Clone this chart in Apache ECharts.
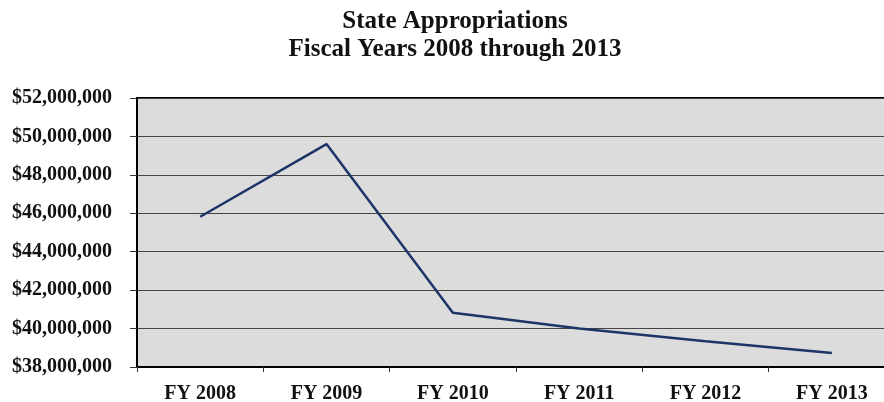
<!DOCTYPE html>
<html>
<head>
<meta charset="utf-8">
<script src="https://cdn.jsdelivr.net/npm/echarts@6/dist/echarts.min.js"></script>
<style>
  html, body { margin: 0; padding: 0; background: #fff; }
  #chart { width: 884px; height: 402px; }
</style>
</head>
<body>
<div id="chart"></div>
<script>
// Data
const years = ['FY 2008', 'FY 2009', 'FY 2010', 'FY 2011', 'FY 2012', 'FY 2013'];
const appropriations = [45820000, 49600000, 40820000, 40000000, 39340000, 38730000];
const titleLines = ['State Appropriations', 'Fiscal Years 2008 through 2013'];

const FONT = '"Liberation Serif", "Times New Roman", serif';

const chart = echarts.init(document.getElementById('chart'));

// format like $52,000,000
const money = v => '$' + v.toLocaleString('en-US');

chart.setOption({
    animation: false,
    graphic: titleLines.map((t, i) => ({
        type: 'text',
        x: 455,
        y: 22 + i * 28,
        style: {
            text: t,
            fontFamily: FONT,
            fontWeight: 'bold',
            fontSize: 25,
            fill: '#111',
            align: 'center',
            verticalAlign: 'middle'
        }
    })),
    grid: {
        left: 137,
        top: 98,
        right: -11,
        bottom: 35,
        outerBoundsMode: 'none',
        containLabel: false,
        show: true,
        backgroundColor: '#dcdcdc',
        borderColor: '#000',
        borderWidth: 2
    },
    xAxis: {
        type: 'category',
        data: years,
        boundaryGap: true,
        axisLine: { lineStyle: { color: '#000', width: 2 } },
        axisTick: { show: true, length: 5, lineStyle: { color: '#333' } },
        axisLabel: {
            margin: 17,
            fontFamily: FONT,
            fontWeight: 'bold',
            fontSize: 20,
            color: '#111'
        }
    },
    yAxis: {
        type: 'value',
        min: 38000000,
        max: 52000000,
        interval: 2000000,
        axisLine: { show: true, lineStyle: { color: '#000', width: 2 } },
        axisTick: { show: true, length: 7, lineStyle: { color: '#333' } },
        splitLine: { lineStyle: { color: '#444', width: 1 } },
        axisLabel: {
            margin: 25,
            fontFamily: FONT,
            fontWeight: 'bold',
            fontSize: 20,
            color: '#111',
            formatter: money
        }
    },
    series: [{
        type: 'line',
        data: appropriations,
        symbol: 'none',
        lineStyle: { color: '#1d3566', width: 2.5 }
    }]
});
</script>
</body>
</html>
